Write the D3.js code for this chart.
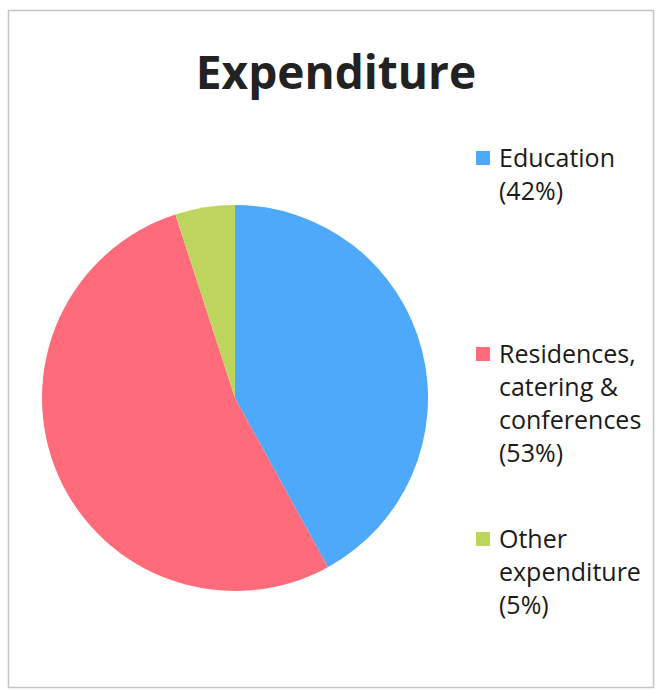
<!DOCTYPE html>
<html>
<head>
	<title>Expenditure</title>
	<script src="https://cdn.jsdelivr.net/npm/d3@7"></script>
</head>
<style type="text/css">
	body { margin:0; background-color:#fff; }
</style>
<body>
</body>
</html>
<script type="text/javascript">
	var width = 656;
	var height = 690;

	var categories = ["Education", "Residences, catering & conferences", "Other expenditure"];
	var values = [42, 53, 5];
	var legendLines = [["Education", "(42%)"], ["Residences,", "catering &", "conferences", "(53%)"], ["Other", "expenditure", "(5%)"]];
	var colors = ["#4ea9fa", "#fe6b7b", "#bdd55d"];

	var svg = d3.select("body").append("svg").attr("width", width).attr("height", height);

	// frame
	svg.append("rect").attr("x", 8.5).attr("y", 10.5).attr("width", 645).attr("height", 677)
		.attr("fill", "none").attr("stroke", "#c4c4c4").attr("stroke-width", 1.5);

	svg.append("text").attr("x", 336).attr("y", 89).attr("text-anchor", "middle")
		.style("font-family", "Open Sans").style("font-weight", "bold").style("font-size", "46px")
		.attr("fill", "#222").text("Expenditure");

	var pie = d3.pie().sort(null).value(function(d){return d});
	var arc = d3.arc().innerRadius(0).outerRadius(193);
	var color = d3.scaleOrdinal().domain(categories).range(colors);

	var g = svg.append("g").attr("transform", "translate(235,398)");
	g.selectAll("path").data(pie(values)).enter().append("path")
		.attr("d", arc)
		.attr("fill", function(d, i){return color(categories[i])});

	// legend
	var legendY = [167, 363, 548];
	var lineH = 33;
	var leg = svg.append("g").selectAll("g").data(categories).enter().append("g")
		.attr("transform", function(d, i){return "translate(476," + legendY[i] + ")"});
	leg.append("rect").attr("x", 0).attr("y", -16).attr("width", 14).attr("height", 14)
		.attr("fill", function(d){return color(d)});
	leg.each(function(d, i){
		var t = d3.select(this).append("text").attr("x", 23).attr("y", 0)
			.style("font-family", "Open Sans").style("font-size", "25px").attr("fill", "#1a1a1a");
		legendLines[i].forEach(function(s, j){
			t.append("tspan").attr("x", 23).attr("y", j * lineH).text(s);
		});
	});
</script>
